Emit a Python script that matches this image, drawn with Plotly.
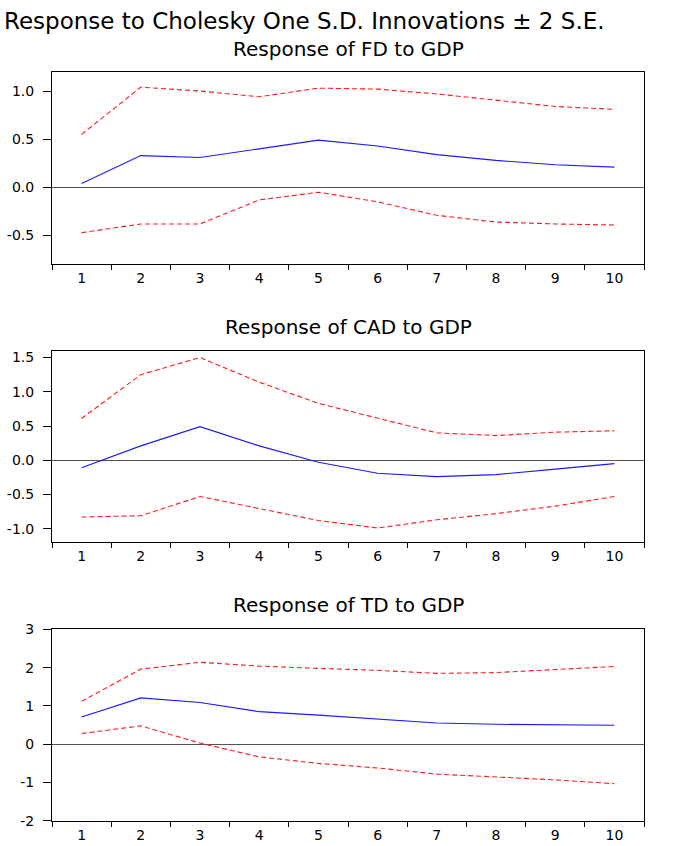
import plotly.graph_objects as go

# ---------------- data ----------------
periods = ["1", "2", "3", "4", "5", "6", "7", "8", "9", "10"]

fd_resp = [0.04, 0.33, 0.31, 0.40, 0.49, 0.43, 0.34, 0.28, 0.235, 0.21]
fd_upper = [0.55, 1.04, 1.00, 0.94, 1.03, 1.02, 0.97, 0.905, 0.84, 0.81]
fd_lower = [-0.47, -0.38, -0.38, -0.13, -0.05, -0.15, -0.29, -0.36, -0.38, -0.39]

cad_resp = [-0.11, 0.21, 0.49, 0.21, -0.03, -0.19, -0.24, -0.21, -0.13, -0.05]
cad_upper = [0.61, 1.25, 1.50, 1.14, 0.83, 0.61, 0.40, 0.36, 0.41, 0.43]
cad_lower = [-0.83, -0.81, -0.53, -0.70, -0.88, -0.99, -0.87, -0.78, -0.67, -0.53]

td_resp = [0.71, 1.21, 1.09, 0.85, 0.76, 0.65, 0.555, 0.52, 0.51, 0.495]
td_upper = [1.12, 1.96, 2.14, 2.04, 1.98, 1.93, 1.85, 1.87, 1.95, 2.03]
td_lower = [0.28, 0.48, 0.03, -0.33, -0.50, -0.62, -0.78, -0.85, -0.93, -1.03]

main_title = "Response to Cholesky One S.D. Innovations \u00b1 2 S.E."
panel_titles = ["Response of FD to GDP", "Response of CAD to GDP", "Response of TD to GDP"]

fd_ticks = [-0.5, 0.0, 0.5, 1.0]
fd_ticktext = ["-0.5", "0.0", "0.5", "1.0"]
cad_ticks = [-1.0, -0.5, 0.0, 0.5, 1.0, 1.5]
cad_ticktext = ["-1.0", "-0.5", "0.0", "0.5", "1.0", "1.5"]
td_ticks = [-2, -1, 0, 1, 2, 3]
td_ticktext = ["-2", "-1", "0", "1", "2", "3"]

# ---------------- layout geometry ----------------
W, H = 689, 846
FONT = "DejaVu Sans"
x_dom = [52 / W, 644 / W]
panels = [
    dict(resp=fd_resp, up=fd_upper, lo=fd_lower, rng=[-0.8, 1.2], tv=fd_ticks, tt=fd_ticktext,
         top=65, bot=261.4, title_y=42),
    dict(resp=cad_resp, up=cad_upper, lo=cad_lower, rng=[-1.2, 1.6], tv=cad_ticks, tt=cad_ticktext,
         top=349.3, bot=544.7, title_y=325),
    dict(resp=td_resp, up=td_upper, lo=td_lower, rng=[-2, 3], tv=td_ticks, tt=td_ticktext,
         top=633.3, bot=828.5, title_y=609),
]

fig = go.Figure()
layout = dict(
    width=W, height=H,
    margin=dict(l=0, r=0, t=0, b=0),
    paper_bgcolor="white", plot_bgcolor="white",
    showlegend=False,
    font=dict(family=FONT, color="black"),
)
annotations = [dict(text=main_title, x=2 / W, y=1 - 13 / H, xref="paper", yref="paper",
                     xanchor="left", yanchor="middle", showarrow=False,
                     font=dict(family=FONT, size=23, color="black"))]

for i, p in enumerate(panels, start=1):
    xa = "x" if i == 1 else f"x{i}"
    ya = "y" if i == 1 else f"y{i}"
    for vals, color, dash in [(p["up"], "#FF1A1A", "5px,3px"),
                              (p["lo"], "#FF1A1A", "5px,3px"),
                              (p["resp"], "#1A1AFF", "solid")]:
        fig.add_trace(go.Scatter(x=periods, y=vals, mode="lines", xaxis=xa, yaxis=ya,
                                 line=dict(color=color, width=1.1, dash=dash),
                                 hoverinfo="skip"))
    layout["xaxis" if i == 1 else f"xaxis{i}"] = dict(
        domain=x_dom, anchor=ya, type="category", range=[-0.5, 9.5],
        tickson="boundaries", ticks="outside", ticklen=5, tickcolor="black", tickwidth=1,
        showline=True, linecolor="black", linewidth=1, mirror=True,
        showgrid=False, zeroline=False,
        tickfont=dict(family=FONT, size=14, color="black"),
        ticklabelstandoff=1,
    )
    layout["yaxis" if i == 1 else f"yaxis{i}"] = dict(
        domain=[1 - p["bot"] / H, 1 - p["top"] / H], anchor=xa, range=p["rng"],
        tickmode="array", tickvals=p["tv"], ticktext=p["tt"],
        ticks="outside", ticklen=8, tickcolor="black", tickwidth=1,
        showline=True, linecolor="black", linewidth=1, mirror=True,
        showgrid=False, zeroline=True, zerolinecolor="#555555", zerolinewidth=1,
        tickfont=dict(family=FONT, size=14, color="black"),
        ticklabelstandoff=6,
    )
    annotations.append(dict(text=panel_titles[i - 1], x=349 / W, y=1 - p["title_y"] / H,
                            xref="paper", yref="paper", xanchor="center", yanchor="middle",
                            showarrow=False, font=dict(family=FONT, size=20, color="black")))

layout["annotations"] = annotations
fig.update_layout(**layout)
fig.write_html(
    "out.html",
    config={"displayModeBar": False},
    post_script="document.body.style.margin='0';document.body.style.padding='0';"
                "document.documentElement.style.overflow='hidden';",
)
